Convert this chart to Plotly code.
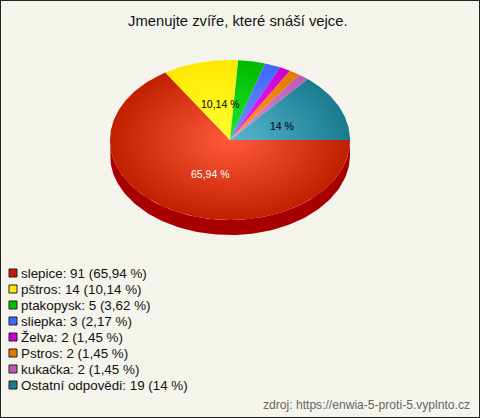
import numpy as np
import plotly.graph_objects as go

categories = ["slepice", "pštros", "ptakopysk", "sliepka", "Želva", "Pstros", "kukačka", "Ostatní odpovědi"]
values = [91, 14, 5, 3, 2, 2, 2, 19]
percent_labels = ["65,94 %", "10,14 %", "3,62 %", "2,17 %", "1,45 %", "1,45 %", "1,45 %", "14 %"]
inner_colors = ["#ff5a3c", "#ffff30", "#20e830", "#6a90ff", "#f030f8", "#ff9a20", "#e090d8", "#58b8d0"]
outer_colors = ["#c02000", "#ffe800", "#00b800", "#4068ff", "#c800d0", "#e87800", "#b85cb0", "#1a7a90"]
swatch_colors = ["#c01c00", "#ffe800", "#00c000", "#4068ff", "#c800d0", "#e87800", "#b85cb0", "#1a7a90"]
pie_labels = {0: "white", 1: "black", 7: "black"}
title_text = "Jmenujte zvíře, které snáší vejce."
source_text = "zdroj: https://enwia-5-proti-5.vyplnto.cz"
BG = "#f5f4ec"

W, H = 480, 418
CX, CY, RX, RY, DEPTH = 230, 140, 120, 80, 15


def pt(t):
    return CX + RX * np.cos(t), CY + RY * np.sin(t)


fig = go.Figure()

# side wall of the pie
t = np.linspace(0, np.pi, 121)
x, y = pt(t)
fig.add_trace(go.Scatter(
    x=np.r_[x, x[::-1]], y=np.r_[y, y[::-1] + DEPTH],
    fill="toself", fillcolor="#a80000", mode="lines", line=dict(width=0), hoverinfo="skip", showlegend=False))

# top face, one wedge per value; the zero-area spikes make every wedge's
# bounding box the whole ellipse so the radial gradients share one centre
total = sum(values)
angle = 0.0
for i, v in enumerate(values):
    sweep = 2 * np.pi * v / total
    t = np.linspace(angle, angle + sweep, max(3, int(sweep * 60)))
    x, y = pt(t)
    px = [CX, CX - RX, CX, CX + RX, CX, CX, CX, CX, CX]
    py = [CY, CY, CY, CY, CY, CY - RY, CY, CY + RY, CY]
    fig.add_trace(go.Scatter(
        x=np.r_[px, x, CX], y=np.r_[py, y, CY],
        fill="toself", mode="lines", line=dict(width=0), hoverinfo="skip", showlegend=False,
        fillgradient=dict(type="radial", colorscale=[[0, inner_colors[i]], [1, outer_colors[i]]])))
    angle += sweep

# percentage labels on the pie
offsets = {0: (-20, 34), 1: (-10, -36), 7: (52, -14)}
for i, col in pie_labels.items():
    fig.add_annotation(x=CX + offsets[i][0], y=CY + offsets[i][1], text=percent_labels[i], showarrow=False,
                       font=dict(family="Liberation Sans", size=10.5, color=col), xanchor="center", yanchor="middle")

# legend
ly = [273 + 16 * i for i in range(len(categories))]
fig.add_trace(go.Scatter(
    x=[13] * len(categories), y=ly, mode="markers",
    marker=dict(symbol="square", size=8, color=swatch_colors, line=dict(color="#222222", width=1)),
    hoverinfo="skip", showlegend=False))
for name, v, p, yy in zip(categories, values, percent_labels, ly):
    fig.add_annotation(x=18.5, y=yy, text=f"{name}: {v} ({p})", showarrow=False, xanchor="left", yanchor="middle",
                       font=dict(family="Liberation Sans", size=13.4, color="#111111"))

fig.add_annotation(x=238, y=21, text=title_text, showarrow=False, xanchor="center", yanchor="middle",
                   font=dict(family="Liberation Sans", size=14.8, color="#111111"))
fig.add_annotation(x=472, y=405, text=source_text, showarrow=False, xanchor="right", yanchor="middle",
                   font=dict(family="Liberation Sans", size=12.1, color="#666666"))

fig.update_layout(
    width=W, height=H, margin=dict(l=0, r=0, t=0, b=0), paper_bgcolor=BG, plot_bgcolor=BG, showlegend=False,
    xaxis=dict(range=[0, W], visible=False, fixedrange=True),
    yaxis=dict(range=[H, 0], visible=False, fixedrange=True),
    shapes=[dict(type="rect", xref="paper", yref="paper", x0=0, y0=0, x1=1, y1=1, line=dict(color="#222222", width=2))],
)
fig.write_html("out.html", config=dict(displayModeBar=False),
               post_script="document.body.style.margin='0';document.documentElement.style.overflow='hidden';")
